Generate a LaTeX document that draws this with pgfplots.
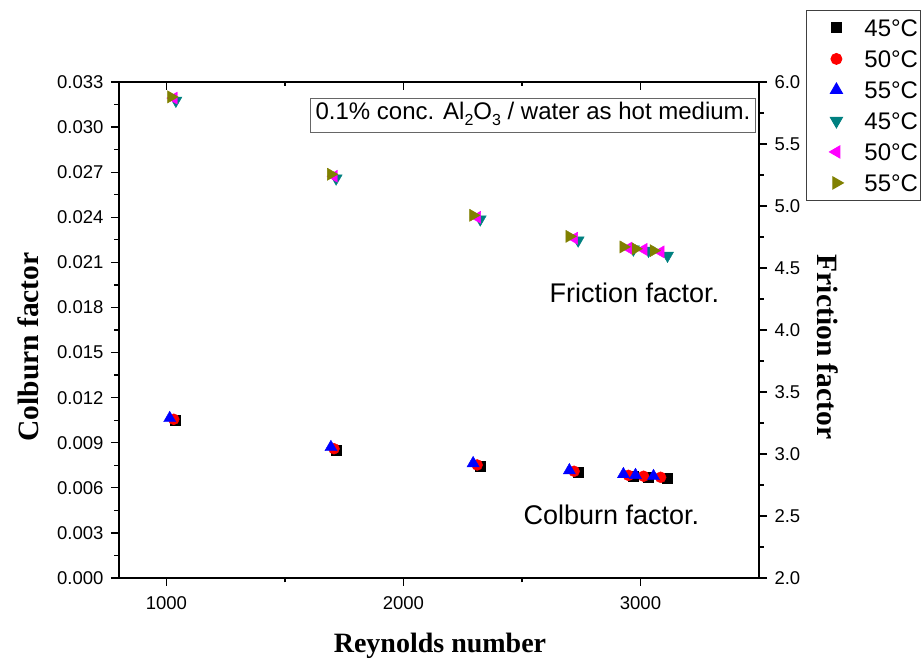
\documentclass[border=0pt]{standalone}
\usepackage{pgfplots}
\pgfplotsset{compat=1.18}
\usepackage{fontspec}
\setmainfont{Liberation Sans}
\newfontfamily\serifb{Liberation Serif}
\definecolor{cteal}{RGB}{0,128,128}
\definecolor{cmag}{RGB}{255,0,255}
\definecolor{colive}{RGB}{128,128,0}
\begin{document}
\begin{tikzpicture}
\path (-119pt,-88pt) rectangle (805pt,578pt);
\pgfplotsset{
  common/.style={
    scale only axis, width=640pt, height=496pt,
    xmin=800, xmax=3500,
    axis line style={line width=1.6pt},
    every tick/.style={line width=1.3pt, black},
    major tick length=8pt, minor tick length=4.5pt,
    tick label style={font=\fontsize{18.5}{18.5}\selectfont},
    /pgf/number format/assume math mode=true,
    clip=false,
  }
}
% Colburn (left axis)
\begin{axis}[common,
  ymin=0, ymax=0.033,
  ytick={0,0.003,...,0.0331}, minor ytick={0.0015,0.0045,...,0.033},
  xtick={1000,2000,3000}, minor xtick={1500,2500},
  xtick pos=bottom, ytick pos=left, tick align=outside,
  scaled y ticks=false,
  yticklabel style={xshift=-4pt, /pgf/number format/.cd, fixed, fixed zerofill, precision=3},
  xticklabel style={yshift=-7pt, /pgf/number format/1000 sep={}},
]
\addplot[/tikz/only marks, mark=square*, mark size=5pt, black, mark options={draw=black, fill=black}] coordinates {
(1039,0.01049) (1716,0.00850) (2324,0.00743) (2737,0.00703) (2970,0.00676) (3034,0.00670) (3114,0.00664)};
\addplot[/tikz/only marks, mark=*, mark size=5.5pt, red, mark options={draw=red, fill=red}] coordinates {
(1031,0.01056) (1707,0.00860) (2311,0.00752) (2720,0.00710) (2949,0.00683) (3013,0.00677) (3085,0.00670)};
\addplot[/tikz/only marks, mark=triangle*, mark size=7pt, blue, mark options={draw=blue, fill=blue}] coordinates {
(1014,0.01063) (1694,0.00870) (2294,0.00763) (2700,0.00716) (2928,0.00690) (2979,0.00684) (3055,0.00677)};
\end{axis}
% top ticks inside
\begin{axis}[common,
  ymin=0, ymax=1, hide y axis,
  xtick={1000,2000,3000}, minor xtick={1500,2500},
  xtick pos=top, tick align=inside, xticklabels={},
]
\end{axis}
% Friction (right axis)
\begin{axis}[common,
  ymin=2, ymax=6,
  axis x line=none, axis y line*=right,
  ytick={2,2.5,...,6.01}, minor ytick={2.25,2.75,...,6},
  tick align=outside,
  yticklabel style={xshift=4pt, /pgf/number format/.cd, fixed, fixed zerofill, precision=1},
  legend image code/.code={\path[draw=none,fill=none] (0pt,-7pt) rectangle (56pt,7pt);
    \draw[mark repeat=2,mark phase=2,#1] plot coordinates {(0pt,0pt) (28pt,0pt) (56pt,0pt)};},
  legend style={at={(1.0734,1.1452)}, anchor=north west,
    font=\fontsize{24}{24}\selectfont, draw=black!75, line width=0.9pt,
    inner xsep=2pt, inner ysep=9pt, row sep=14pt,
    nodes={inner sep=0pt, text height=17pt, text depth=0pt},
    /tikz/every even column/.append style={column sep=5pt}},
  legend cell align=left,
]
\addlegendimage{/tikz/only marks, mark=square*, mark size=5pt, black}
\addlegendentry{45°C}
\addlegendimage{/tikz/only marks, mark=*, mark size=5.5pt, red}
\addlegendentry{50°C}
\addlegendimage{/tikz/only marks, mark=triangle*, mark size=7pt, blue}
\addlegendentry{55°C}
\addplot[/tikz/only marks, mark=triangle*, mark size=7pt, cteal, mark options={rotate=180, draw=cteal, fill=cteal}] coordinates {
(1040,5.85) (1716,5.223) (2324,4.893) (2737,4.723) (2970,4.65) (3034,4.64) (3114,4.60)};
\addlegendentry{45°C}
\addplot[/tikz/only marks, mark=triangle*, mark size=7pt, cmag, mark options={rotate=90, draw=cmag, fill=cmag}] coordinates {
(1031,5.87) (1707,5.24) (2311,4.909) (2720,4.74) (2949,4.66) (3013,4.65) (3085,4.63)};
\addlegendentry{50°C}
\addplot[/tikz/only marks, mark=triangle*, mark size=7pt, colive, mark options={rotate=-90, draw=colive, fill=colive}] coordinates {
(1020,5.88) (1694,5.256) (2294,4.925) (2700,4.755) (2928,4.67) (2979,4.655) (3055,4.64)};
\addlegendentry{55°C}
\end{axis}
\node[rotate=90, font=\serifb\bfseries\fontsize{29.5}{29.5}\selectfont] at (-91pt,231pt) {Colburn factor};
\node[rotate=-90, font=\serifb\bfseries\fontsize{29.5}{29.5}\selectfont] at (709pt,231pt) {Friction factor};
\node[font=\serifb\bfseries\fontsize{28}{28}\selectfont] at (321pt,-68pt) {Reynolds number};
\node[draw=black!60, line width=0.8pt, fill=white, font=\fontsize{24}{24}\selectfont, inner xsep=5pt, text height=17pt, text depth=7pt, inner ysep=5pt] at (414pt,463pt)
  {0.1\% conc. Al\raisebox{-6pt}{\fontsize{16}{16}\selectfont 2}O\raisebox{-6pt}{\fontsize{16}{16}\selectfont 3} / water as hot medium.};
\node[anchor=west, font=\fontsize{27}{27}\selectfont] at (427pt,285pt) {Friction factor.};
\node[anchor=west, font=\fontsize{27}{27}\selectfont] at (401pt,63pt) {Colburn factor.};
\end{tikzpicture}
\end{document}
